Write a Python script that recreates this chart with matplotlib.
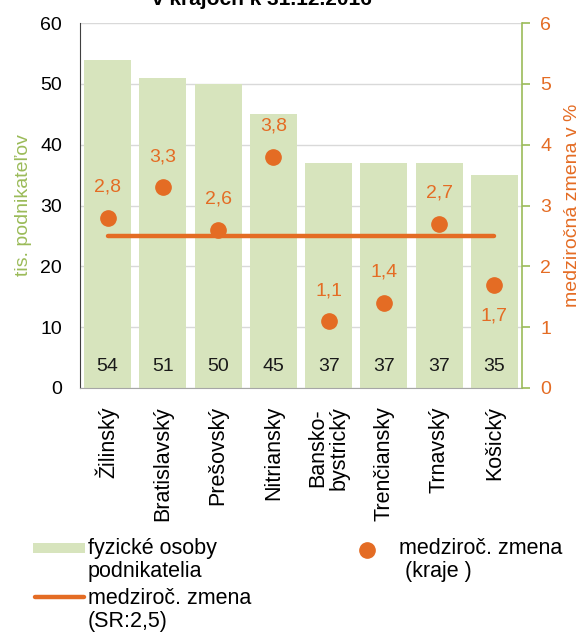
import matplotlib
matplotlib.use("Agg")
import matplotlib.pyplot as plt
from matplotlib.patches import Rectangle
from matplotlib.lines import Line2D

plt.rcParams['font.family'] = ['Liberation Sans', 'DejaVu Sans']

kraje = ['Žilinský', 'Bratislavský', 'Prešovský', 'Nitriansky',
         'Bansko-\nbystrický', 'Trenčiansky', 'Trnavský', 'Košický']
podnikatelia = [54, 51, 50, 45, 37, 37, 37, 35]      # tis. osôb
zmena_kraje = [2.8, 3.3, 2.6, 3.8, 1.1, 1.4, 2.7, 1.7]  # %
zmena_sr = 2.5

GREEN_BAR = '#D7E4BD'
GREEN = '#9BBB59'
ORANGE = '#E46C24'

W, H = 583, 633
fig = plt.figure(figsize=(W / 100, H / 100), dpi=100)
ax = fig.add_axes([80 / W, 1 - 388 / H, 442 / W, 365 / H])
ax2 = ax.twinx()

x = list(range(len(kraje)))
ax.bar(x, podnikatelia, width=0.85, color=GREEN_BAR, zorder=2)
for xi, v in zip(x, podnikatelia):
    ax.text(xi, 3.6, f'{v:.0f}', ha='center', va='center', fontsize=14, color='#1a1a1a', zorder=3)

ax.set_xlim(-0.5, len(kraje) - 0.5)
ax.set_ylim(0, 60)
ax.set_yticks(range(0, 61, 10))
ax.yaxis.grid(True, color='#D9D9D9', lw=1, zorder=0)
ax.set_axisbelow(True)
ax.tick_params(axis='y', length=0, labelsize=14, pad=13)
ax.tick_params(axis='x', length=0, labelsize=15.5, pad=13)
ax.set_xticks(x)
ax.set_xticklabels(kraje, rotation=90, va='top', ha='center', linespacing=1.05)
ax.set_ylabel('tis. podnikateľov', color=GREEN, fontsize=14, labelpad=6)

ax.spines['top'].set_visible(False)
ax2.spines['top'].set_visible(False)
ax.spines['left'].set_color('#404040')
ax.spines['bottom'].set_color('#A6A6A6')
ax.spines['right'].set_visible(False)
ax2.spines['left'].set_visible(False)
ax2.spines['bottom'].set_visible(False)
ax2.spines['right'].set_color(GREEN)
ax2.spines['right'].set_linewidth(1.2)

# medziročná zmena na pravej osi
ax2.set_ylim(0, 6)
ax2.set_yticks(range(0, 7))
ax2.tick_params(axis='y', colors=GREEN, labelcolor=ORANGE, labelsize=14, length=6, width=1.2, pad=7)
ax2.set_ylabel('medziročná zmena v %', color=ORANGE, fontsize=14, labelpad=9)
ax2.plot([0, len(kraje) - 1], [zmena_sr, zmena_sr], color=ORANGE, lw=3.2,
         solid_capstyle='round', zorder=3)
ax2.plot(x, zmena_kraje, 'o', color=ORANGE, ms=11, zorder=4)
for xi, v in zip(x, zmena_kraje):
    below = kraje[xi] == 'Košický'
    off = -0.52 if below else 0.5
    ax2.text(xi, v + off, f'{v:.1f}'.replace('.', ','), ha='center', va='center',
             fontsize=14, color=ORANGE)

fig.text(262 / W, 1 - 5 / H, 'v krajoch k 31.12.2016', ha='center', va='baseline',
         fontsize=15, fontweight='bold')

# legenda pod grafom
LFS = 15.5
def fy(py):
    return 1 - py / H

fig.add_artist(Rectangle((33 / W, fy(553)), 52 / W, 10 / H, transform=fig.transFigure,
                         color=GREEN_BAR, lw=0))
fig.text(88 / W, fy(560), 'fyzické osoby\npodnikatelia', fontsize=LFS, va='center',
         linespacing=1.15, ha='left')
fig.add_artist(Line2D([35 / W, 84 / W], [fy(597), fy(597)], transform=fig.transFigure,
                      color=ORANGE, lw=3.2, solid_capstyle='round'))
fig.text(88 / W, fy(610), 'medziroč. zmena\n(SR:2,5)', fontsize=LFS, va='center',
         linespacing=1.15, ha='left')
fig.add_artist(Line2D([367 / W], [fy(550)], transform=fig.transFigure,
                      color=ORANGE, marker='o', ms=11, ls='none'))
fig.text(399 / W, fy(560), 'medziroč. zmena\n (kraje )', fontsize=LFS, va='center',
         linespacing=1.15, ha='left')

fig.savefig('out.png', dpi=100)
